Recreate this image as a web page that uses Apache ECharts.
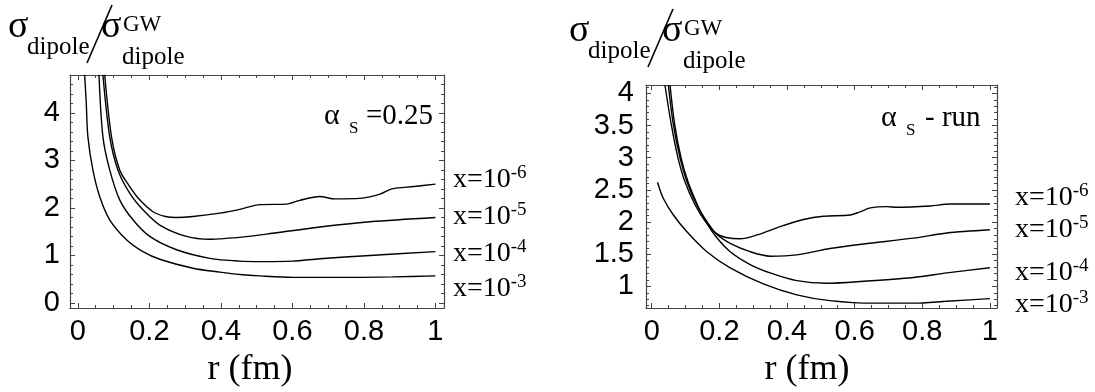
<!DOCTYPE html>
<html>
<head>
<meta charset="utf-8">
<script src="https://cdn.jsdelivr.net/npm/echarts@6/dist/echarts.min.js"></script>
<style>
html, body { margin: 0; padding: 0; background: #fff; }
#main { width: 1095px; height: 392px; }
</style>
</head>
<body>
<div id="main"></div>
<script>
// ---- data: [r (fm), sigma ratio] ----
// fixed coupling, alpha_s = 0.25
const fixed_x3 = [[0.019, 4.8], [0.0235, 4.2], [0.028, 3.5], [0.042, 2.8], [0.061, 2.24], [0.089, 1.75], [0.136, 1.33], [0.182, 1.08], [0.229, 0.92], [0.322, 0.73], [0.397, 0.65], [0.453, 0.6], [0.509, 0.57], [0.602, 0.54], [0.77, 0.54], [0.88, 0.55], [1.0, 0.57]];
const fixed_x4 = [[0.059, 4.8], [0.07, 3.5], [0.089, 2.8], [0.117, 2.17], [0.154, 1.75], [0.201, 1.4], [0.276, 1.12], [0.369, 0.94], [0.453, 0.88], [0.518, 0.87], [0.6, 0.88], [0.677, 0.93], [0.817, 1.0], [1.0, 1.08]];
const fixed_x5 = [[0.07, 4.8], [0.089, 3.5], [0.112, 2.8], [0.145, 2.31], [0.182, 1.96], [0.229, 1.64], [0.304, 1.4], [0.369, 1.34], [0.397, 1.35], [0.453, 1.38], [0.528, 1.45], [0.677, 1.6], [0.817, 1.71], [1.0, 1.8]];
const fixed_x6 = [[0.075, 4.8], [0.094, 3.5], [0.117, 2.8], [0.145, 2.45], [0.173, 2.17], [0.21, 1.92], [0.245, 1.82], [0.276, 1.8], [0.322, 1.82], [0.397, 1.89], [0.453, 1.97], [0.509, 2.07], [0.584, 2.08], [0.621, 2.16], [0.677, 2.24], [0.719, 2.19], [0.789, 2.2], [0.845, 2.29], [0.878, 2.4], [0.94, 2.45], [1.0, 2.5]];

// running coupling
const run_x3 = [[0.017, 2.62], [0.034, 2.37], [0.064, 2.11], [0.104, 1.85], [0.163, 1.54], [0.232, 1.29], [0.33, 1.04], [0.429, 0.87], [0.527, 0.78], [0.656, 0.74], [0.774, 0.74], [0.873, 0.77], [1.0, 0.81]];
const run_x4 = [[0.054, 4.13], [0.068, 3.51], [0.087, 2.99], [0.107, 2.63], [0.135, 2.27], [0.163, 1.98], [0.192, 1.76], [0.232, 1.54], [0.291, 1.34], [0.35, 1.21], [0.429, 1.09], [0.518, 1.05], [0.626, 1.08], [0.774, 1.14], [0.873, 1.21], [1.0, 1.29]];
const run_x5 = [[0.049, 4.13], [0.064, 3.51], [0.084, 2.99], [0.104, 2.63], [0.133, 2.27], [0.163, 2.01], [0.192, 1.81], [0.232, 1.67], [0.291, 1.54], [0.35, 1.47], [0.429, 1.49], [0.527, 1.59], [0.626, 1.66], [0.774, 1.75], [0.873, 1.83], [1.0, 1.88]];
const run_x6 = [[0.039, 4.13], [0.058, 3.51], [0.078, 2.99], [0.098, 2.63], [0.128, 2.27], [0.16, 2.0], [0.192, 1.82], [0.22, 1.76], [0.261, 1.74], [0.311, 1.8], [0.38, 1.93], [0.449, 2.04], [0.508, 2.09], [0.587, 2.11], [0.616, 2.16], [0.646, 2.22], [0.695, 2.24], [0.725, 2.23], [0.823, 2.25], [0.883, 2.28], [1.0, 2.28]];

// ---- ticks ----
const xMajor = [0, 0.2, 0.4, 0.6, 0.8, 1];
const xMinor = [0.05, 0.1, 0.15, 0.25, 0.3, 0.35, 0.45, 0.5, 0.55, 0.65, 0.7, 0.75, 0.85, 0.9, 0.95];
const yMajorFixed = [0, 1, 2, 3, 4];
const yMinorFixed = [0.2, 0.4, 0.6, 0.8, 1.2, 1.4, 1.6, 1.8, 2.2, 2.4, 2.6, 2.8, 3.2, 3.4, 3.6, 3.8, 4.2, 4.4, 4.6];
const yMajorRun = [1, 1.5, 2, 2.5, 3, 3.5, 4];
const yMinorRun = [0.7, 0.8, 0.9, 1.1, 1.2, 1.3, 1.4, 1.6, 1.7, 1.8, 1.9, 2.1, 2.2, 2.3, 2.4, 2.6, 2.7, 2.8, 2.9, 3.1, 3.2, 3.3, 3.4, 3.6, 3.7, 3.8, 3.9, 4.1];

const curveLabels = ["-6", "-5", "-4", "-3"];

var chartDom = document.getElementById("main");
var chart = echarts.init(chartDom, null, { renderer: "canvas" });

const FRAME = "#444";
const SERIF = "Liberation Serif";

// four framing axes: labelled main pair + unlabelled opposite pair, minor ticks on an overlay grid
function frameAxes(dim, grid, minorGrid, min, max, major, minor, margin) {
	const first = dim === "x" ? "bottom" : "left";
	const second = dim === "x" ? "top" : "right";
	const base = {
		type: "value",
		min: min,
		max: max,
		splitLine: { show: false },
	};
	const line = { show: true, onZero: false, lineStyle: { color: FRAME, width: 1.2 } };
	const noLine = { show: false, onZero: false };
	return [
		Object.assign({}, base, {
			gridIndex: grid,
			position: first,
			axisLine: line,
			axisTick: { inside: true, length: 5, customValues: major, lineStyle: { color: FRAME } },
			axisLabel: {
				customValues: major,
				margin: margin,
				color: "#000",
				fontSize: 29,
				fontFamily: "Liberation Sans",
			},
		}),
		Object.assign({}, base, {
			gridIndex: grid,
			position: second,
			axisLine: line,
			axisTick: { inside: true, length: 5, customValues: major, lineStyle: { color: FRAME } },
			axisLabel: { show: false },
		}),
		Object.assign({}, base, {
			gridIndex: minorGrid,
			position: first,
			axisLine: noLine,
			axisTick: { inside: true, length: 3, customValues: minor, lineStyle: { color: FRAME } },
			axisLabel: { show: false },
		}),
		Object.assign({}, base, {
			gridIndex: minorGrid,
			position: second,
			axisLine: noLine,
			axisTick: { inside: true, length: 3, customValues: minor, lineStyle: { color: FRAME } },
			axisLabel: { show: false },
		}),
	];
}

function curve(data, axisIndex) {
	return {
		type: "line",
		data: data,
		xAxisIndex: axisIndex,
		yAxisIndex: axisIndex,
		showSymbol: false,
		smooth: 0.3,
		silent: true,
		lineStyle: { color: "#000", width: 1.4 },
	};
}

function txt(x, y, text, size, align) {
	return {
		type: "text",
		x: x,
		y: y,
		silent: true,
		style: {
			text: text,
			fontSize: size,
			fontFamily: SERIF,
			fill: "#000",
			align: align || "left",
			verticalAlign: "middle",
		},
	};
}

// "x=10^-n" with a raised exponent
function xLabel(x, y, exp) {
	return {
		type: "text",
		x: x,
		y: y,
		silent: true,
		style: {
			text: "{m|x=10}{s|" + exp + "}",
			verticalAlign: "middle",
			rich: {
				m: { fontSize: 28, fontFamily: SERIF, fill: "#000", lineHeight: 32 },
				s: { fontSize: 19, fontFamily: SERIF, fill: "#000", verticalAlign: "top", lineHeight: 19 },
			},
		},
	};
}

// sigma_dipole / sigma_dipole^GW
function yTitle(dx, dy) {
	return [
		txt(8 + dx, 27 + dy, "\u03C3", 38),
		txt(27 + dx, 47 + dy, "dipole", 25),
		{
			type: "line",
			silent: true,
			shape: { x1: 87 + dx, y1: 63 + dy, x2: 112 + dx, y2: 5 + dy },
			style: { stroke: "#000", lineWidth: 1.6 },
		},
		txt(101 + dx, 27 + dy, "\u03C3", 38),
		txt(123 + dx, 25 + dy, "GW", 23),
		txt(122 + dx, 57 + dy, "dipole", 25),
	];
}

const labelYFixed = [180, 216.7, 253.3, 288.3];
const labelYRun = [198, 230, 273, 305];

let graphics = [];
graphics = graphics.concat(yTitle(0, 0), yTitle(561, 4));
curveLabels.forEach(function (e, i) {
	graphics.push(xLabel(453, labelYFixed[i], e));
	graphics.push(xLabel(1015, labelYRun[i], e));
});
graphics.push(txt(324, 116, "\u03B1", 30));
graphics.push(txt(349, 129, "S", 17));
graphics.push(txt(366, 116, "=0.25", 29));
graphics.push(txt(881, 118, "\u03B1", 30));
graphics.push(txt(906, 131, "S", 17));
graphics.push(txt(925, 118, "- run", 29));
graphics.push(txt(250, 370, "r (fm)", 36, "center"));
graphics.push(txt(807, 370, "r (fm)", 36, "center"));

var option = {
	animation: false,
	backgroundColor: "#fff",
	grid: [
		{ left: 70, top: 75, width: 374, height: 233 },
		{ left: 70, top: 75, width: 374, height: 233 },
		{ left: 646, top: 85, width: 351, height: 223 },
		{ left: 646, top: 85, width: 351, height: 223 },
	],
	xAxis: [].concat(
		frameAxes("x", 0, 1, -0.022, 1.024, xMajor, xMinor, 9),
		frameAxes("x", 2, 3, -0.017, 1.021, xMajor, xMinor, 9)
	),
	yAxis: [].concat(
		frameAxes("y", 0, 1, -0.105, 4.796, yMajorFixed, yMinorFixed, 10),
		frameAxes("y", 2, 3, 0.665, 4.13, yMajorRun, yMinorRun, 12)
	),
	series: [
		curve(fixed_x3, 0),
		curve(fixed_x4, 0),
		curve(fixed_x5, 0),
		curve(fixed_x6, 0),
		curve(run_x3, 4),
		curve(run_x4, 4),
		curve(run_x5, 4),
		curve(run_x6, 4),
	],
	graphic: graphics,
};

option && chart.setOption(option);
</script>
</body>
</html>
